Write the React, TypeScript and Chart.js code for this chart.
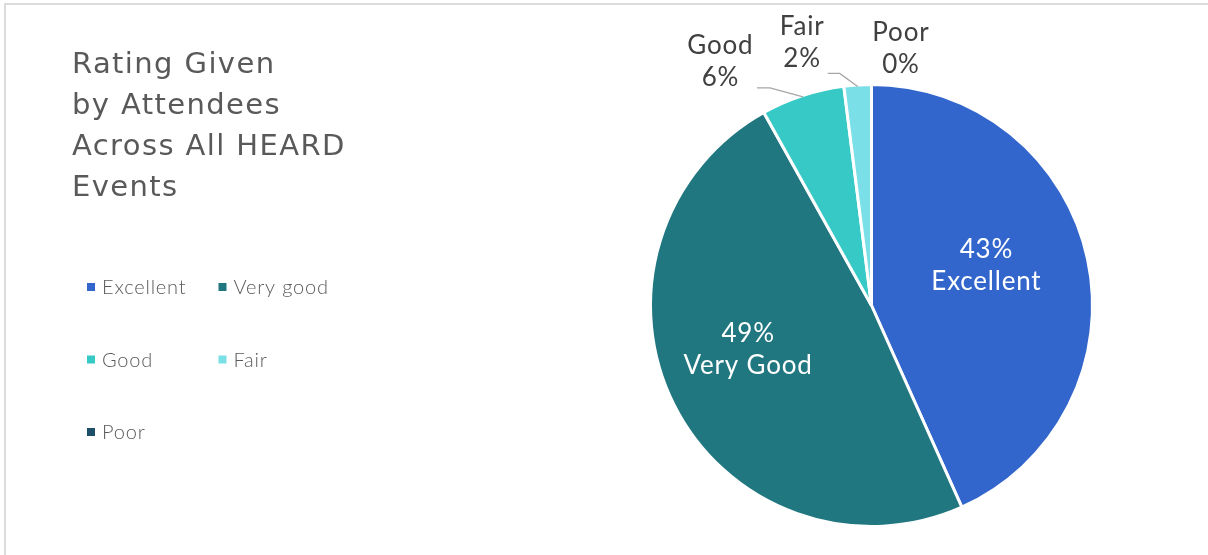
import React, { useEffect, useRef } from "react";
import { Chart, registerables } from "chart.js";

Chart.register(...registerables);

// ---- data ----
const categories = ["Excellent", "Very good", "Good", "Fair", "Poor"];
const sliceNames = ["Excellent", "Very Good", "Good", "Fair", "Poor"];
const ratingShares = [43.3, 48.6, 6.1, 2.0, 0];
const sliceColors = ["#3366CC", "#217780", "#36C9C6", "#7BDFE8", "#1F4E6B"];
const titleLines = ["Rating Given", "by Attendees", "Across All HEARD", "Events"];

// ---- styles ----
const FONT = "Lato, 'Open Sans', sans-serif";
const TITLE_FONT = "'DejaVu Sans', 'Open Sans', sans-serif";
const TEXT_GRAY = "#595959";
const LABEL_GRAY = "#404040";
// outside label placement relative to the slice's outer mid-point: [labelDx, labelDy, elbowDx, elbowDy, endDx]
const outsideLayout: Record<string, number[] | null> = {
  Good: [-83, -35, -33, -9, -46],
  Fair: [-56, -44, -18, -13, -30],
  Poor: [29, -37],
};

function setSpacing(ctx: any, px: number) {
  if ("letterSpacing" in ctx) ctx.letterSpacing = px + "px";
}

function centeredText(ctx: CanvasRenderingContext2D, t: string, x: number, y: number, sp: number) {
  // compensate trailing letter spacing when centering
  ctx.fillText(t, x + sp / 2, y);
}

const overlayPlugin = {
  id: "overlay",
  afterDraw(chart: any) {
    const ctx = chart.ctx as CanvasRenderingContext2D;
    ctx.save();
    // title
    ctx.fillStyle = TEXT_GRAY;
    ctx.font = `29px ${TITLE_FONT}`;
    setSpacing(ctx, 1.4);
    ctx.textAlign = "left";
    ctx.textBaseline = "alphabetic";
    titleLines.forEach((t, i) => ctx.fillText(t, 72, 73 + i * 41));

    // legend (2 columns, row-major)
    const colors = chart.data.datasets[0].backgroundColor as string[];
    ctx.font = `300 20px ${FONT}`;
    setSpacing(ctx, 0.8);
    ctx.textBaseline = "middle";
    (chart.data.labels as string[]).forEach((lab, i) => {
      const col = i % 2;
      const row = Math.floor(i / 2);
      const x = 87 + col * 131.5;
      const y = 287 + row * 72.5;
      ctx.fillStyle = colors[i];
      ctx.fillRect(x, y - 4, 8, 8);
      ctx.fillStyle = TEXT_GRAY;
      ctx.fillText(lab, x + 15, y + 1);
    });

    // data labels
    const meta = chart.getDatasetMeta(0);
    const data = chart.data.datasets[0].data as number[];
    const total = data.reduce((a, b) => a + b, 0);
    ctx.textAlign = "center";
    ctx.textBaseline = "middle";
    ctx.font = `26px ${FONT}`;
    const sp = 0.8;
    setSpacing(ctx, sp);
    meta.data.forEach((arc: any, i: number) => {
      const pct = Math.round((data[i] / total) * 100) + "%";
      const name = sliceNames[i];
      const mid = (arc.startAngle + arc.endAngle) / 2;
      const R = arc.outerRadius - 1.5;
      if (data[i] / total > 0.1) {
        const d = R * 0.58;
        const cx = arc.x + Math.cos(mid) * d - 10;
        const cy = arc.y + Math.sin(mid) * d - 13;
        ctx.fillStyle = "#ffffff";
        centeredText(ctx, pct, cx, cy - 16, sp);
        centeredText(ctx, name, cx, cy + 16, sp);
      } else {
        const lay = outsideLayout[name];
        if (!lay) return;
        const ax = arc.x + Math.cos(mid) * R;
        const ay = arc.y + Math.sin(mid) * R;
        if (lay.length > 2) {
          ctx.strokeStyle = "#a6a6a6";
          ctx.lineWidth = 1.3;
          ctx.beginPath();
          ctx.moveTo(ax, ay);
          ctx.lineTo(ax + lay[2], ay + lay[3]);
          ctx.lineTo(ax + lay[4], ay + lay[3]);
          ctx.stroke();
        }
        ctx.fillStyle = LABEL_GRAY;
        const cx = ax + lay[0];
        const cy = ay + lay[1];
        centeredText(ctx, name, cx, cy - 16, sp);
        centeredText(ctx, pct, cx, cy + 16, sp);
      }
    });
    ctx.restore();
  },
};

export default function App() {
  const ref = useRef<HTMLCanvasElement | null>(null);
  useEffect(() => {
    document.body.style.margin = "0";
    const canvas = ref.current!;
    const chart = new Chart(canvas, {
      type: "pie",
      data: {
        labels: categories,
        datasets: [
          {
            data: ratingShares,
            backgroundColor: sliceColors,
            borderColor: "#ffffff",
            borderWidth: 3,
          },
        ],
      },
      options: {
        animation: false,
        responsive: false,
        devicePixelRatio: 1,
        layout: { padding: { left: 649, right: 114, top: 83, bottom: 27 } },
        plugins: {
          legend: { display: false },
          tooltip: { enabled: false },
          title: { display: false },
        },
      },
      plugins: [overlayPlugin],
    });
    return () => chart.destroy();
  }, []);

  return (
    <div style={{ position: "fixed", left: 0, top: 0, width: 1208, height: 555, background: "#fff", overflow: "hidden" }}>
      <div
        style={{
          position: "absolute",
          left: 4,
          top: 3,
          width: 1210,
          height: 600,
          border: "2px solid #dcdcdc",
          boxSizing: "border-box",
        }}
      />
      <canvas ref={ref} width={1208} height={555} style={{ position: "absolute", left: 0, top: 0 }} />
    </div>
  );
}
